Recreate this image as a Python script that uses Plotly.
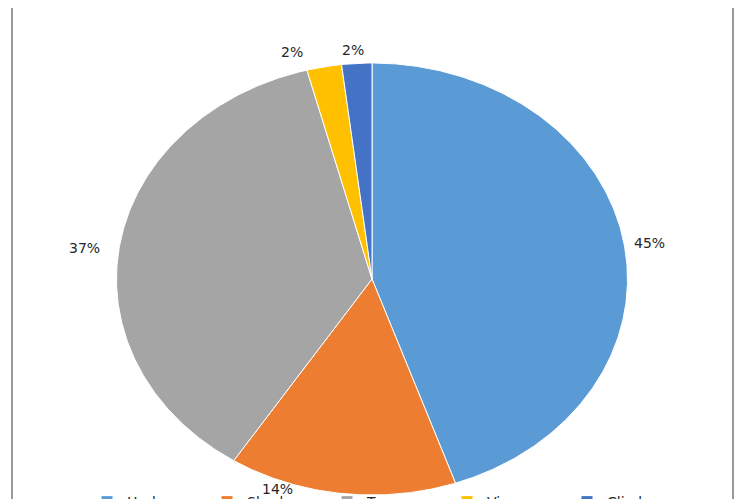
import numpy as np
import plotly.graph_objects as go

categories = ["Herbs", "Shrubs", "Trees", "Vines", "Climbers"]
values = [44.7, 14.4, 36.8, 2.2, 1.9]
colors = ["#5B9BD5", "#ED7D31", "#A5A5A5", "#FFC000", "#4472C4"]
# label placement (angle clockwise from 12 o'clock in degrees, radius relative to pie)
label_angle = [81.3, 200.9, 277.3, 343.4, 356.0]
label_radius = [1.10, 1.04, 1.136, 1.096, 1.063]

OFF = 8                      # page body margin offset
W, H = 750 - OFF, 499 - OFF
pcx, pcy = 372 - OFF, 279 - OFF   # pie centre in figure px (from top-left)
rx, ry = 255.5, 216.0              # pie radii in px

fig = go.Figure()
total = sum(values)
start = 0.0
for name, v, c in zip(categories, values, colors):
    sweep = 360.0 * v / total
    th = np.radians(np.linspace(start, start + sweep, max(int(sweep * 2), 4)))
    xs = np.concatenate([[0], np.sin(th), [0]])
    ys = np.concatenate([[0], np.cos(th), [0]])
    fig.add_trace(go.Scatter(
        x=xs, y=ys, mode="lines", fill="toself", fillcolor=c,
        line=dict(color="white", width=1), name=name, hoverinfo="skip",
        showlegend=False,
    ))
    start += sweep

for name, c in zip(categories, colors):
    fig.add_trace(go.Scatter(x=[None], y=[None], mode="markers", name=name,
                             marker=dict(symbol="square", size=11, color=c)))

for v, a, r in zip(values, label_angle, label_radius):
    t = np.radians(a)
    fig.add_annotation(x=r * np.sin(t), y=r * np.cos(t), xref="x", yref="y",
                       text=f"{round(v / total * 100)}%", showarrow=False,
                       font=dict(family="DejaVu Sans", size=14, color="#262626"))

fig.add_shape(type="line", xref="paper", yref="paper", x0=4 / W, x1=4 / W, y0=0, y1=1,
              line=dict(color="#999999", width=2))
fig.add_shape(type="line", xref="paper", yref="paper", x0=725 / W, x1=725 / W, y0=0, y1=1,
              line=dict(color="#999999", width=2))

x_range = [-pcx / rx, (W - pcx) / rx]
y_range = [-(H - pcy) / ry, pcy / ry]

fig.update_layout(
    width=W, height=H,
    margin=dict(l=0, r=0, t=0, b=0, autoexpand=False),
    paper_bgcolor="white", plot_bgcolor="white",
    xaxis=dict(range=x_range, domain=[0, 1], visible=False, fixedrange=True),
    yaxis=dict(range=y_range, domain=[0, 1], visible=False, fixedrange=True),
    legend=dict(orientation="h", xref="paper", yref="paper", x=79 / W, y=-3 / H,
                xanchor="left", yanchor="middle", entrywidth=75,
                font=dict(family="DejaVu Sans", size=14, color="#262626"),
                bgcolor="rgba(0,0,0,0)", itemclick=False, itemdoubleclick=False),
    showlegend=True,
)

fig.write_html("out.html")
